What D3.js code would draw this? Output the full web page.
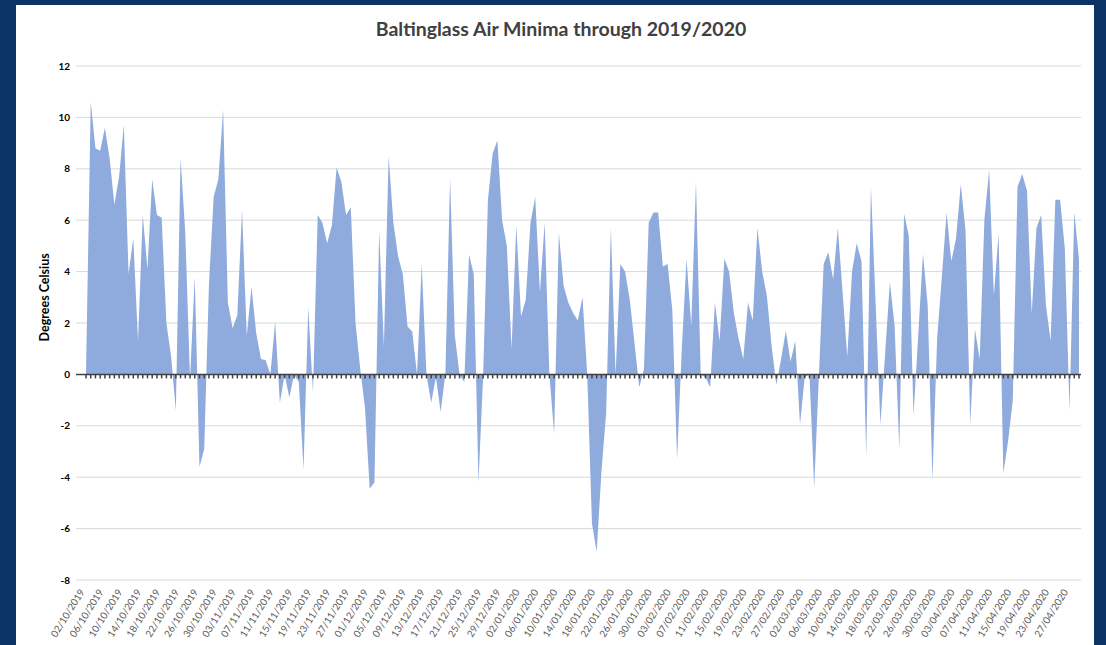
<!DOCTYPE html>
<html>
<head>
<meta charset="utf-8">
<script src="https://cdn.jsdelivr.net/npm/d3@7"></script>
<style>
  body { margin: 0; background: #0b3363; }
  svg { display: block; }
</style>
</head>
<body>
<div id="chart"></div>
<script>
// daily air minima, starting 02/10/2019
const startDate = new Date(2019, 9, 2);
const minima = [
  0, 10.6, 8.8, 8.7, 9.6, 8.4, 6.6, 7.7, 9.7, 3.9,
  5.3, 1.3, 6.2, 4.1, 7.6, 6.2, 6.1, 2.0, 0.7, -1.4,
  8.4, 5.5, -0.2, 3.8, -3.6, -2.9, 3.5, 6.9, 7.6, 10.3,
  2.8, 1.8, 2.3, 6.4, 1.5, 3.4, 1.6, 0.6, 0.55, 0,
  2.05, -1.1, 0, -0.9, 0, -0.3, -3.7, 2.6, -0.7, 6.2,
  5.9, 5.1, 5.8, 8.05, 7.5, 6.2, 6.5, 2.0, 0.2, -1.3,
  -4.45, -4.2, 5.6, 1.1, 8.5, 5.9, 4.6, 3.9, 1.86, 1.67,
  0, 4.3, 0, -1.1, -0.1, -1.45, 0, 7.65, 1.5, 0,
  -0.3, 4.66, 3.9, -4.2, 0, 6.8, 8.6, 9.1, 6.0, 5.0,
  1.0, 5.8, 2.25, 2.9, 5.9, 6.9, 3.2, 5.9, 0, -2.3,
  5.5, 3.45, 2.8, 2.4, 2.1, 3.0, 0, -5.8, -6.9, -3.8,
  -1.5, 5.7, 0, 4.3, 4.0, 2.9, 1.2, -0.5, 0.2, 5.9,
  6.3, 6.3, 4.2, 4.3, 2.5, -3.3, 1.0, 4.5, 1.9, 7.5,
  0, -0.1, -0.5, 2.8, 1.3, 4.5, 4.0, 2.4, 1.4, 0.6,
  2.8, 2.1, 5.7, 4.0, 3.05, 1.1, -0.4, 0.6, 1.7, 0.5,
  1.3, -1.95, -0.1, 0, -4.4, 0, 4.3, 4.75, 3.7, 5.7,
  3.2, 0.7, 4.0, 5.1, 4.4, -3.2, 7.3, 2.7, -1.95, 0.8,
  3.6, 1.9, -2.9, 6.25, 5.4, -1.6, 1.5, 4.7, 2.7, -4.1,
  1.4, 3.8, 6.3, 4.4, 5.3, 7.4, 5.6, -1.95, 1.75, 0.6,
  6.05, 7.95, 3.05, 5.5, -3.85, -2.6, -1.0, 7.3, 7.8, 7.15,
  2.35, 5.7, 6.2, 2.7, 1.3, 6.8, 6.8, 4.9, -1.4, 6.3,
  4.5
];
const yTicks = [12, 10, 8, 6, 4, 2, 0, -2, -4, -6, -8];
const labelEvery = 4;
const title = "Baltinglass Air Minima through 2019/2020";
const yTitle = "Degrees Celsius";

const dates = minima.map((v, i) => d3.timeDay.offset(startDate, i));
const fmt = d3.timeFormat("%d/%m/%Y");

const W = 1106, H = 645;
const plot = { left: 76, right: 1081, top: 66, bottom: 580 };

const svg = d3.select("#chart").append("svg")
    .attr("width", W)
    .attr("height", H);

// white chart panel
svg.append("rect")
    .attr("x", 16).attr("y", 5)
    .attr("width", 1078).attr("height", H - 5)
    .attr("fill", "#fff");

const x = d3.scaleLinear()
    .domain([0, minima.length - 1])
    .range([86, 1079]);

const y = d3.scaleLinear()
    .domain([-8, 12])
    .range([plot.bottom, plot.top]);

// gridlines
svg.append("g")
    .selectAll("line")
    .data(yTicks.filter(d => d !== 0))
    .enter()
    .append("line")
    .attr("x1", plot.left).attr("x2", plot.right)
    .attr("y1", d => y(d)).attr("y2", d => y(d))
    .style("stroke", "#d9d9d9")
    .style("stroke-width", 1);

// y tick labels
svg.append("g")
    .selectAll("text")
    .data(yTicks)
    .enter()
    .append("text")
    .attr("x", 70)
    .attr("y", d => y(d) + 3.5)
    .attr("text-anchor", "end")
    .style("font-family", "Lato, 'Open Sans', sans-serif")
    .style("font-size", "10px")
    .style("font-weight", "bold")
    .style("fill", "#000")
    .text(d => d);

// area
const area = d3.area()
    .x((d, i) => x(i))
    .y0(y(0))
    .y1(d => y(d));

svg.append("path")
    .datum(minima)
    .attr("d", area)
    .style("fill", "#8faadc")
    .style("stroke", "none");

// zero axis with a tick per day
const axisY = y(0);
svg.append("line")
    .attr("x1", plot.left).attr("x2", plot.right)
    .attr("y1", axisY).attr("y2", axisY)
    .style("stroke", "#404040")
    .style("stroke-width", 1.5);

svg.append("g")
    .selectAll("line")
    .data(minima)
    .enter()
    .append("line")
    .attr("x1", (d, i) => x(i)).attr("x2", (d, i) => x(i))
    .attr("y1", axisY).attr("y2", axisY + 4)
    .style("stroke", "#404040")
    .style("stroke-width", 1.5);

// date labels, every 4th day
svg.append("g")
    .selectAll("text")
    .data(dates.filter((d, i) => i % labelEvery === 0))
    .enter()
    .append("text")
    .attr("transform", (d, i) => `translate(${x(i * labelEvery) - 4}, ${plot.bottom + 10}) rotate(-58)`)
    .attr("dy", "0.35em")
    .attr("text-anchor", "end")
    .style("font-family", "Lato, 'Open Sans', sans-serif")
    .style("font-size", "9.8px")
    .style("fill", "#595959")
    .text(d => fmt(d));

// titles
svg.append("text")
    .attr("x", 561).attr("y", 36)
    .attr("text-anchor", "middle")
    .style("font-family", "Lato, 'Open Sans', sans-serif")
    .style("font-size", "19.5px")
    .style("font-weight", "bold")
    .style("fill", "#404040")
    .text(title);

svg.append("text")
    .attr("transform", `translate(49, ${y(3)}) rotate(-90)`)
    .attr("text-anchor", "middle")
    .style("font-family", "Lato, 'Open Sans', sans-serif")
    .style("font-size", "12.5px")
    .style("font-weight", "bold")
    .style("fill", "#000")
    .text(yTitle);
</script>
</body>
</html>
